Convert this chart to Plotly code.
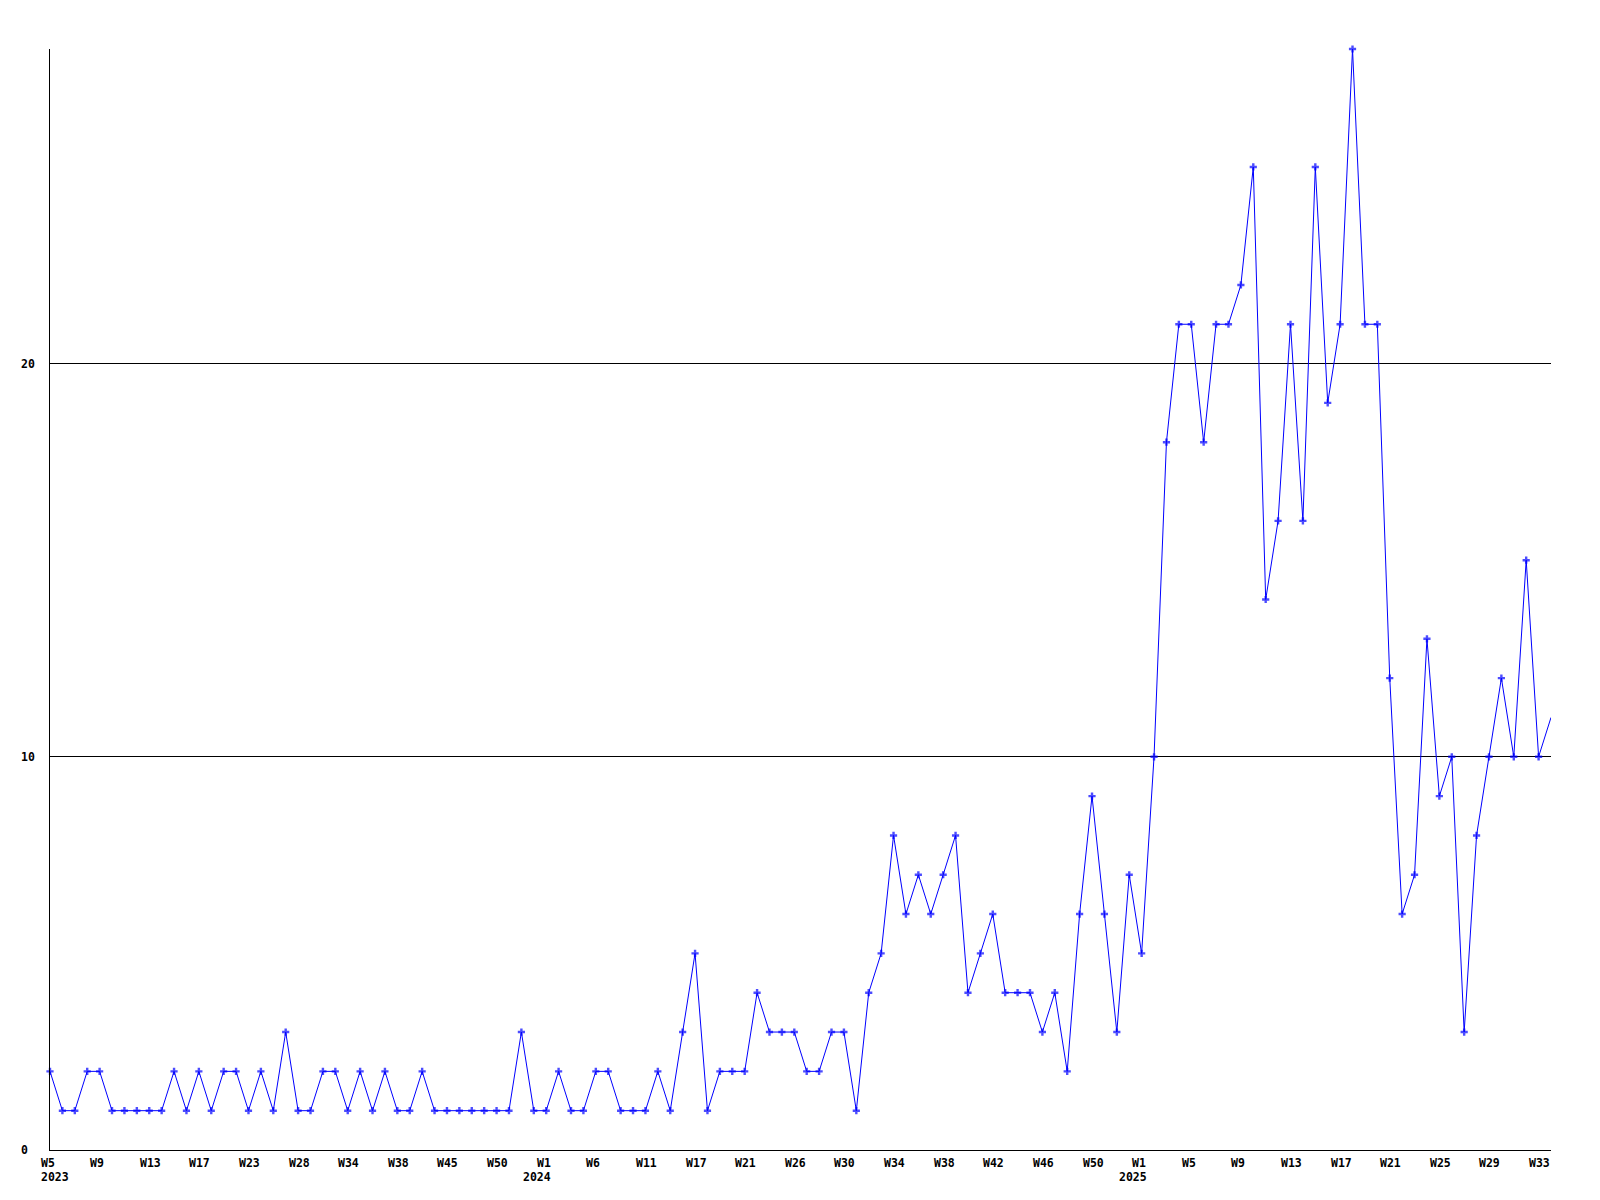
import plotly.graph_objects as go

# Weekly values (one per plotted week, in order, starting 2023 W5)
values = [
    2, 1, 1, 2, 2, 1, 1, 1, 1, 1, 2, 1, 2, 1, 2, 2, 1, 2, 1, 3,
    1, 1, 2, 2, 1, 2, 1, 2, 1, 1, 2, 1, 1, 1, 1, 1, 1, 1, 3, 1,
    1, 2, 1, 1, 2, 2, 1, 1, 1, 2, 1, 3, 5, 1, 2, 2, 2, 4, 3, 3,
    3, 2, 2, 3, 3, 1, 4, 5, 8, 6, 7, 6, 7, 8, 4, 5, 6, 4, 4, 4,
    3, 4, 2, 6, 9, 6, 3, 7, 5, 10, 18, 21, 21, 18, 21, 21, 22, 25, 14, 16,
    21, 16, 25, 19, 21, 28, 21, 21, 12, 6, 7, 13, 9, 10, 3, 8, 10, 12, 10, 15,
    10, 11,
]

# Tick labels, one every 4 plotted weeks
tick_weeks = [
    "W5", "W9", "W13", "W17", "W23", "W28", "W34", "W38", "W45", "W50",
    "W1", "W6", "W11", "W17", "W21", "W26", "W30", "W34", "W38", "W42",
    "W46", "W50", "W1", "W5", "W9", "W13", "W17", "W21", "W25", "W29", "W33",
]
year_ticks = [0, 10, 22]
year_labels = ["2023", "2024", "2025"]
tick_step = 4

y_ticks = [0, 10, 20]
y_max = 28

x = list(range(len(values)))
sizes = [6] * (len(values) - 1) + [0]

fig = go.Figure()
fig.add_trace(go.Scatter(
    x=x, y=values, mode="lines+markers",
    line=dict(color="#0000ff", width=1),
    marker=dict(symbol="cross", size=sizes, color="#0000ff", line=dict(width=0)),
    cliponaxis=False,
    showlegend=False,
))

font = dict(family="DejaVu Sans Mono", size=11.5, color="#000000", weight="bold")

annotations = []
for i, w in enumerate(tick_weeks):
    annotations.append(dict(
        x=i * tick_step, xref="x", y=0, yref="paper",
        text=w, showarrow=False, xanchor="left", yanchor="top",
        xshift=-11.5, yshift=-3.5, font=font,
    ))
for k, (i, yl) in enumerate(zip(year_ticks, year_labels)):
    if k == 0:
        anchor, shift = "left", -11.5
    else:
        anchor, shift = "center", -9
    annotations.append(dict(
        x=i * tick_step, xref="x", y=0, yref="paper",
        text=yl, showarrow=False, xanchor=anchor, yanchor="top",
        xshift=shift, yshift=-18, font=font,
    ))
for v in y_ticks:
    annotations.append(dict(
        x=0, xref="paper", y=v, yref="y", text=str(v), showarrow=False,
        xanchor="left", yanchor="middle", xshift=-31, font=font,
    ))

fig.update_layout(
    width=1600, height=1200,
    margin=dict(l=42, r=57, t=41, b=58),
    paper_bgcolor="white", plot_bgcolor="white",
    annotations=annotations,
    xaxis=dict(range=[0, 121], showgrid=False, zeroline=False,
               showticklabels=False, ticks="", showline=True,
               linecolor="black", linewidth=1),
    yaxis=dict(range=[0, y_max], tickvals=[10, 20], showgrid=True,
               gridcolor="black", gridwidth=1, zeroline=False,
               showticklabels=False, ticks="", showline=True,
               linecolor="black", linewidth=1),
)

fig.write_html("out.html")
